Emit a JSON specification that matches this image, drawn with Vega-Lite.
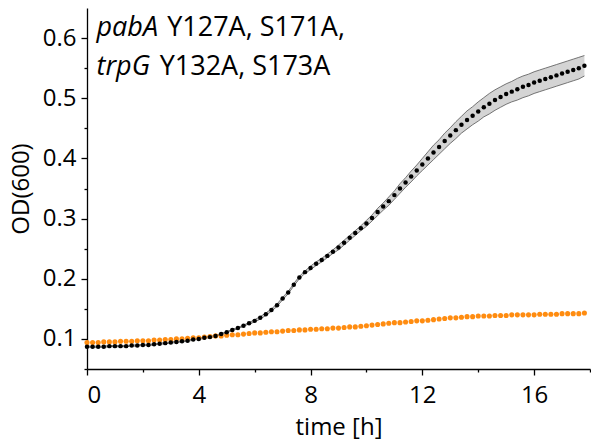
{
  "$schema": "https://vega.github.io/schema/vega-lite/v6.json",
  "width": 503,
  "height": 361,
  "autosize": {"type": "none"},
  "padding": {"left": 87, "top": 8, "right": 1, "bottom": 72},
  "background": "white",
  "config": {
    "view": {"stroke": null},
    "font": "Open Sans",
    "axis": {
      "domainColor": "black",
      "domainWidth": 1.3,
      "tickColor": "black",
      "tickWidth": 1.3,
      "labelColor": "black",
      "titleColor": "black",
      "labelFont": "Open Sans",
      "titleFont": "Open Sans",
      "labelFontSize": 24,
      "titleFontSize": 24,
      "titleFontWeight": "normal",
      "grid": false
    }
  },
  "datasets": {
    "black": [
      {"t": 0, "od": 0.087, "sd": 0.001}, {"t": 0.2, "od": 0.087, "sd": 0.001}, {"t": 0.4, "od": 0.087, "sd": 0.001},
      {"t": 0.6, "od": 0.087, "sd": 0.001}, {"t": 0.8, "od": 0.088, "sd": 0.001}, {"t": 1.0, "od": 0.088, "sd": 0.001},
      {"t": 1.2, "od": 0.088, "sd": 0.001}, {"t": 1.4, "od": 0.088, "sd": 0.001}, {"t": 1.6, "od": 0.089, "sd": 0.001},
      {"t": 1.8, "od": 0.089, "sd": 0.001}, {"t": 2.0, "od": 0.090, "sd": 0.001}, {"t": 2.2, "od": 0.090, "sd": 0.001},
      {"t": 2.4, "od": 0.091, "sd": 0.001}, {"t": 2.6, "od": 0.092, "sd": 0.001}, {"t": 2.8, "od": 0.093, "sd": 0.001},
      {"t": 3.0, "od": 0.094, "sd": 0.001}, {"t": 3.2, "od": 0.095, "sd": 0.001}, {"t": 3.4, "od": 0.096, "sd": 0.001},
      {"t": 3.6, "od": 0.097, "sd": 0.001}, {"t": 3.8, "od": 0.099, "sd": 0.001}, {"t": 4.0, "od": 0.100, "sd": 0.001},
      {"t": 4.2, "od": 0.102, "sd": 0.001}, {"t": 4.4, "od": 0.103, "sd": 0.001}, {"t": 4.6, "od": 0.105, "sd": 0.001},
      {"t": 4.8, "od": 0.108, "sd": 0.001}, {"t": 5.0, "od": 0.111, "sd": 0.001}, {"t": 5.2, "od": 0.115, "sd": 0.001},
      {"t": 5.4, "od": 0.118, "sd": 0.001}, {"t": 5.6, "od": 0.122, "sd": 0.001}, {"t": 5.8, "od": 0.126, "sd": 0.001},
      {"t": 6.0, "od": 0.130, "sd": 0.002}, {"t": 6.2, "od": 0.135, "sd": 0.002}, {"t": 6.4, "od": 0.141, "sd": 0.002},
      {"t": 6.6, "od": 0.148, "sd": 0.002}, {"t": 6.8, "od": 0.156, "sd": 0.002}, {"t": 7.0, "od": 0.167, "sd": 0.002},
      {"t": 7.2, "od": 0.177, "sd": 0.002}, {"t": 7.4, "od": 0.190, "sd": 0.002}, {"t": 7.6, "od": 0.202, "sd": 0.002},
      {"t": 7.8, "od": 0.211, "sd": 0.002}, {"t": 8.0, "od": 0.218, "sd": 0.003}, {"t": 8.2, "od": 0.225, "sd": 0.003},
      {"t": 8.4, "od": 0.231, "sd": 0.003}, {"t": 8.6, "od": 0.238, "sd": 0.003}, {"t": 8.8, "od": 0.245, "sd": 0.003},
      {"t": 9.0, "od": 0.252, "sd": 0.004}, {"t": 9.2, "od": 0.260, "sd": 0.004}, {"t": 9.4, "od": 0.268, "sd": 0.004},
      {"t": 9.6, "od": 0.276, "sd": 0.004}, {"t": 9.8, "od": 0.284, "sd": 0.004}, {"t": 10.0, "od": 0.292, "sd": 0.005},
      {"t": 10.2, "od": 0.301, "sd": 0.005}, {"t": 10.4, "od": 0.311, "sd": 0.006}, {"t": 10.6, "od": 0.320, "sd": 0.006},
      {"t": 10.8, "od": 0.329, "sd": 0.007}, {"t": 11.0, "od": 0.339, "sd": 0.007}, {"t": 11.2, "od": 0.350, "sd": 0.008},
      {"t": 11.4, "od": 0.360, "sd": 0.008}, {"t": 11.6, "od": 0.370, "sd": 0.009}, {"t": 11.8, "od": 0.380, "sd": 0.009},
      {"t": 12.0, "od": 0.390, "sd": 0.010}, {"t": 12.2, "od": 0.400, "sd": 0.011}, {"t": 12.4, "od": 0.410, "sd": 0.012},
      {"t": 12.6, "od": 0.419, "sd": 0.012}, {"t": 12.8, "od": 0.429, "sd": 0.013}, {"t": 13.0, "od": 0.438, "sd": 0.013},
      {"t": 13.2, "od": 0.447, "sd": 0.014}, {"t": 13.4, "od": 0.456, "sd": 0.014}, {"t": 13.6, "od": 0.464, "sd": 0.015},
      {"t": 13.8, "od": 0.471, "sd": 0.015}, {"t": 14.0, "od": 0.478, "sd": 0.016}, {"t": 14.2, "od": 0.485, "sd": 0.016},
      {"t": 14.4, "od": 0.491, "sd": 0.017}, {"t": 14.6, "od": 0.497, "sd": 0.017}, {"t": 14.8, "od": 0.502, "sd": 0.017},
      {"t": 15.0, "od": 0.507, "sd": 0.017}, {"t": 15.2, "od": 0.511, "sd": 0.017}, {"t": 15.4, "od": 0.515, "sd": 0.018},
      {"t": 15.6, "od": 0.519, "sd": 0.018}, {"t": 15.8, "od": 0.522, "sd": 0.018}, {"t": 16.0, "od": 0.526, "sd": 0.018},
      {"t": 16.2, "od": 0.529, "sd": 0.018}, {"t": 16.4, "od": 0.532, "sd": 0.018}, {"t": 16.6, "od": 0.535, "sd": 0.018},
      {"t": 16.8, "od": 0.538, "sd": 0.018}, {"t": 17.0, "od": 0.541, "sd": 0.018}, {"t": 17.2, "od": 0.544, "sd": 0.018},
      {"t": 17.4, "od": 0.547, "sd": 0.018}, {"t": 17.6, "od": 0.550, "sd": 0.018}, {"t": 17.8, "od": 0.554, "sd": 0.017}
    ],
    "orange": [
      {"t": 0, "od": 0.094}, {"t": 0.2, "od": 0.094}, {"t": 0.4, "od": 0.094}, {"t": 0.6, "od": 0.095},
      {"t": 0.8, "od": 0.095}, {"t": 1.0, "od": 0.095}, {"t": 1.2, "od": 0.096}, {"t": 1.4, "od": 0.096},
      {"t": 1.6, "od": 0.096}, {"t": 1.8, "od": 0.097}, {"t": 2.0, "od": 0.097}, {"t": 2.2, "od": 0.097},
      {"t": 2.4, "od": 0.098}, {"t": 2.6, "od": 0.098}, {"t": 2.8, "od": 0.099}, {"t": 3.0, "od": 0.099},
      {"t": 3.2, "od": 0.100}, {"t": 3.4, "od": 0.100}, {"t": 3.6, "od": 0.101}, {"t": 3.8, "od": 0.102},
      {"t": 4.0, "od": 0.102}, {"t": 4.2, "od": 0.103}, {"t": 4.4, "od": 0.104}, {"t": 4.6, "od": 0.105},
      {"t": 4.8, "od": 0.105}, {"t": 5.0, "od": 0.106}, {"t": 5.2, "od": 0.107}, {"t": 5.4, "od": 0.107},
      {"t": 5.6, "od": 0.108}, {"t": 5.8, "od": 0.109}, {"t": 6.0, "od": 0.110}, {"t": 6.2, "od": 0.110},
      {"t": 6.4, "od": 0.111}, {"t": 6.6, "od": 0.112}, {"t": 6.8, "od": 0.112}, {"t": 7.0, "od": 0.113},
      {"t": 7.2, "od": 0.114}, {"t": 7.4, "od": 0.114}, {"t": 7.6, "od": 0.115}, {"t": 7.8, "od": 0.115},
      {"t": 8.0, "od": 0.116}, {"t": 8.2, "od": 0.116}, {"t": 8.4, "od": 0.117}, {"t": 8.6, "od": 0.117},
      {"t": 8.8, "od": 0.118}, {"t": 9.0, "od": 0.118}, {"t": 9.2, "od": 0.119}, {"t": 9.4, "od": 0.120},
      {"t": 9.6, "od": 0.120}, {"t": 9.8, "od": 0.121}, {"t": 10.0, "od": 0.122}, {"t": 10.2, "od": 0.123},
      {"t": 10.4, "od": 0.124}, {"t": 10.6, "od": 0.125}, {"t": 10.8, "od": 0.126}, {"t": 11.0, "od": 0.127},
      {"t": 11.2, "od": 0.127}, {"t": 11.4, "od": 0.128}, {"t": 11.6, "od": 0.129}, {"t": 11.8, "od": 0.130},
      {"t": 12.0, "od": 0.130}, {"t": 12.2, "od": 0.131}, {"t": 12.4, "od": 0.132}, {"t": 12.6, "od": 0.133},
      {"t": 12.8, "od": 0.134}, {"t": 13.0, "od": 0.135}, {"t": 13.2, "od": 0.135}, {"t": 13.4, "od": 0.136},
      {"t": 13.6, "od": 0.137}, {"t": 13.8, "od": 0.137}, {"t": 14.0, "od": 0.138}, {"t": 14.2, "od": 0.138},
      {"t": 14.4, "od": 0.138}, {"t": 14.6, "od": 0.139}, {"t": 14.8, "od": 0.139}, {"t": 15.0, "od": 0.139},
      {"t": 15.2, "od": 0.140}, {"t": 15.4, "od": 0.140}, {"t": 15.6, "od": 0.140}, {"t": 15.8, "od": 0.140},
      {"t": 16.0, "od": 0.140}, {"t": 16.2, "od": 0.141}, {"t": 16.4, "od": 0.141}, {"t": 16.6, "od": 0.141},
      {"t": 16.8, "od": 0.141}, {"t": 17.0, "od": 0.142}, {"t": 17.2, "od": 0.142}, {"t": 17.4, "od": 0.142},
      {"t": 17.6, "od": 0.142}, {"t": 17.8, "od": 0.143}
    ],
    "italicText": [
      {"t": 0.34, "od": 0.603, "txt": "pabA"},
      {"t": 0.34, "od": 0.539, "txt": "trpG"}
    ],
    "plainText": [
      {"t": 2.87, "od": 0.603, "txt": "Y127A, S171A,"},
      {"t": 2.6, "od": 0.539, "txt": "Y132A, S173A"}
    ]
  },
  "encoding": {
    "x": {
      "field": "t", "type": "quantitative",
      "scale": {"domain": [0, 18], "nice": false, "zero": false},
      "axis": {
        "title": "time [h]",
        "values": [0, 2, 4, 6, 8, 10, 12, 14, 16, 18],
        "labelExpr": "datum.value % 4 == 0 ? datum.label : ''",
        "tickSize": {"condition": {"test": "datum.value % 4 == 0", "value": 6}, "value": 3},
        "labelPadding": 8,
        "titlePadding": 8
      }
    },
    "y": {
      "field": "od", "type": "quantitative",
      "scale": {"domain": [0.05, 0.65], "nice": false, "zero": false},
      "axis": {
        "title": "OD(600)",
        "values": [0.05, 0.1, 0.15, 0.2, 0.25, 0.3, 0.35, 0.4, 0.45, 0.5, 0.55, 0.6],
        "format": ".1f",
        "labelExpr": "round(datum.value * 20) % 2 == 0 ? datum.label : ''",
        "tickSize": {"condition": {"test": "round(datum.value * 20) % 2 == 0", "value": 6}, "value": 3},
        "labelPadding": 5,
        "titlePadding": 9
      }
    }
  },
  "layer": [
    {
      "data": {"name": "black"},
      "mark": {
        "type": "errorband",
        "band": {"color": "#d4d4d4", "opacity": 1},
        "borders": {"color": "#555555", "strokeWidth": 0.8, "opacity": 1}
      },
      "encoding": {
        "y": {"field": "od", "type": "quantitative"},
        "yError": {"field": "sd"}
      }
    },
    {
      "data": {"name": "orange"},
      "mark": {"type": "point", "filled": true, "color": "#ff8c10", "size": 26, "opacity": 1}
    },
    {
      "data": {"name": "black"},
      "mark": {"type": "point", "filled": true, "color": "black", "size": 20, "opacity": 1}
    },
    {
      "data": {"name": "italicText"},
      "mark": {"type": "text", "align": "left", "baseline": "alphabetic", "fontSize": 27, "fontStyle": "italic", "font": "Open Sans", "color": "black"},
      "encoding": {"text": {"field": "txt"}}
    },
    {
      "data": {"name": "plainText"},
      "mark": {"type": "text", "align": "left", "baseline": "alphabetic", "fontSize": 27, "font": "Open Sans", "color": "black"},
      "encoding": {"text": {"field": "txt"}}
    }
  ]
}
